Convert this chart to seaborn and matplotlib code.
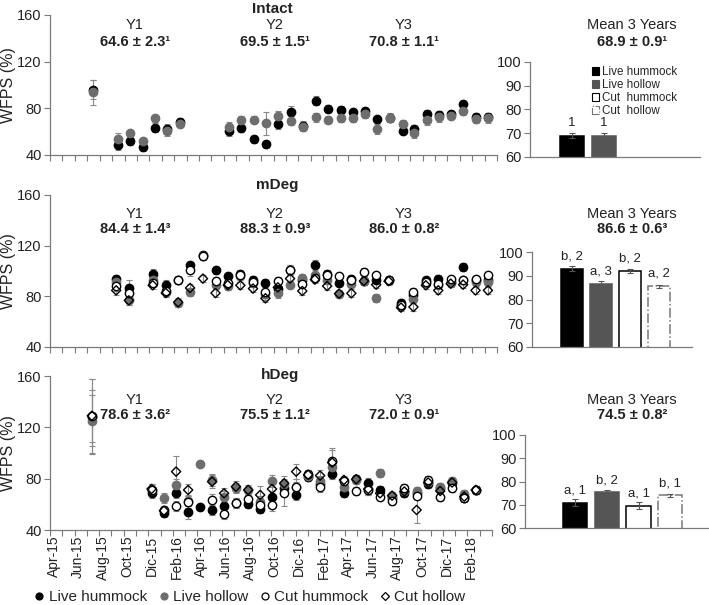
import numpy as np
import pandas as pd
import seaborn as sns
import matplotlib.pyplot as plt
from matplotlib.lines import Line2D
from matplotlib.patches import Patch

sns.set_theme(style="white")
plt.rcParams['font.family'] = ['Liberation Sans', 'DejaVu Sans']

# ---------------- datos ----------------
series = ["Live hummock", "Live hollow", "Cut hummock", "Cut hollow"]
month_labels = ["Apr-15", "Jun-15", "Aug-15", "Oct-15", "Dic-15", "Feb-16", "Apr-16", "Jun-16",
                "Aug-16", "Oct-16", "Dic-16", "Feb-17", "Apr-17", "Jun-17", "Aug-17", "Oct-17",
                "Dic-17", "Feb-18"]

# Intact (meses desde abril 2015)
x_int = [3.45, 5.45, 6.45, 7.45, 8.45, 9.45, 10.45, 14.45, 15.4, 16.4, 17.4, 18.4, 19.4, 20.4, 21.4,
         22.4, 23.4, 24.4, 25.4, 26.3, 27.4, 28.4, 29.3, 30.4, 31.3, 32.3, 33.3, 34.3, 35.3]
int_lhum = [95.9, 48.6, 52.3, 46.6, 63.5, 62.4, 68.6, 60.6, 63.5, 53.5, 49.2, 66.7, 76.7, 65.2, 86.7,
            79.6, 78.7, 76.7, 77.3, 70.7, 72.1, 60.9, 62.4, 75.3, 74.4, 75.0, 83.6, 73.0, 72.4]
int_lhol = [93.6, 53.5, 58.7, 52.0, 71.6, 60.6, 66.9, 64.4, 70.1, 70.1, 67.2, 73.5, 69.5, 64.4, 72.4,
            70.1, 71.6, 71.6, 75.0, 62.4, 72.1, 66.7, 58.7, 70.1, 73.0, 73.8, 77.3, 70.7, 71.6]
err_int_lhum = [8, 4, 4, 3, 4, 4, 3, 4, 4, 3, 3, 4, 5, 4, 4, 3, 3, 3, 3, 3, 3, 3, 3, 3, 3, 3, 3, 3, 3]
err_int_lhol = [11, 5, 3, 3, 3, 4, 3, 4, 3, 3, 10, 4, 4, 4, 4, 3, 3, 3, 3, 4, 4, 3, 4, 4, 5, 3, 3, 3, 4]

# mDeg
x_m = [5.33, 6.35, 8.27, 9.33, 10.32, 11.28, 12.32, 13.33, 14.32, 15.33, 16.35, 17.35, 18.35, 19.33,
       20.32, 21.33, 22.32, 23.28, 24.27, 25.28, 26.27, 27.27, 28.27, 29.27, 30.27, 31.27, 32.27,
       33.27, 34.27, 35.27]
m_lhum = [94.0, 86.9, 97.9, 88.7, 92.6, 104.5, 112.3, 100.5, 95.8, 97.9, 93.2, 90.5, 86.1, 101.1, 93.2,
          104.5, 97.9, 90.8, 94.0, 92.1, 93.2, 92.6, 75.0, 80.8, 92.6, 94.0, 91.3, 103.1, 92.6, 92.6]
m_lhol = [91.3, 77.4, 92.6, 83.4, 74.7, 83.4, 111.6, 88.7, 87.9, 95.8, 90.5, 81.6, 82.6, 89.2, 94.8,
          96.6, 93.2, 81.6, 90.0, 92.1, 78.7, 92.6, 72.1, 78.2, 90.5, 88.7, 90.5, 92.6, 91.3, 91.3]
m_chum = [88.1, 82.9, 90.5, 84.2, 93.2, 101.1, 111.8, 92.0, 90.5, 96.5, 91.3, 83.4, 91.9, 100.5, 90.0,
          94.8, 96.5, 95.8, 92.6, 99.2, 96.6, 93.0, 73.0, 83.4, 91.5, 90.0, 93.4, 92.6, 93.4, 96.6]
m_chol = [84.7, 76.8, 88.7, 82.6, 75.3, 86.6, 94.0, 82.6, 88.9, 88.7, 86.1, 78.4, 87.1, 94.0, 84.2,
          93.2, 88.1, 82.1, 82.4, 92.1, 89.2, 92.0, 71.1, 71.6, 88.7, 84.7, 90.0, 89.2, 84.7, 84.7]
err_m_lhum = [3, 6, 4, 4, 3, 3, 3, 3, 3, 3, 3, 3, 3, 4, 3, 4, 3, 3, 3, 3, 3, 3, 3, 3, 3, 3, 3, 3, 3, 3]
err_m_lhol = [3, 4, 3, 3, 3, 3, 3, 3, 3, 3, 3, 3, 4, 3, 3, 3, 3, 3, 3, 3, 3, 3, 3, 3, 3, 3, 3, 3, 3, 3]
err_m_chum = [4, 4, 3, 3, 3, 5, 3, 3, 3, 3, 3, 6, 3, 4, 3, 3, 3, 3, 3, 3, 3, 3, 3, 3, 3, 3, 3, 3, 3, 3]
err_m_chol = [4, 4, 3, 3, 3, 3, 3, 3, 3, 3, 3, 3, 3, 3, 3, 3, 3, 3, 3, 3, 3, 3, 3, 3, 3, 3, 3, 3, 3, 3]

# hDeg
x_h = [3.41, 8.27, 9.28, 10.27, 11.25, 12.21, 13.2, 14.18, 15.14, 16.14, 17.12, 18.08, 19.07, 20.05,
       21.02, 22.0, 22.98, 23.94, 24.94, 25.92, 26.88, 27.86, 28.86, 29.86, 30.8, 31.78, 32.75,
       33.74, 34.67]
h_lhum = [128.4, 68.6, 53.0, 68.6, 53.8, 58.2, 55.6, 58.7, 60.8, 60.0, 56.1, 66.0, 72.5, 67.3, 81.1,
          75.6, 83.4, 68.6, 79.6, 76.4, 71.2, 65.2, 68.6, 68.6, 75.6, 72.5, 76.4, 65.2, 71.2]
h_lhol = [125.3, 71.2, 65.2, 75.1, 62.6, 91.5, 79.0, 66.0, 73.0, 71.2, 61.6, 78.2, 75.6, 73.3, 82.0,
          78.2, 89.4, 73.8, 79.0, 71.2, 84.2, 66.8, 70.4, 70.4, 77.7, 73.8, 78.2, 67.8, 71.2]
h_chum = [128.9, 71.0, 55.6, 58.7, 62.1, np.nan, 63.4, 52.2, 61.3, 64.2, 59.7, 59.5, 68.6, 73.8, 83.4,
          73.3, 93.8, 78.2, 70.4, 71.2, 66.0, 62.6, 73.0, 66.8, 79.0, 65.5, 72.5, 65.2, 71.2]
h_chol = [129.0, 72.0, 55.0, 85.5, 71.2, np.nan, 77.7, 68.6, 73.8, 71.2, 67.3, 72.0, 76.4, 85.5, 83.0,
          82.4, 92.5, 79.0, 79.6, 72.0, 68.6, 66.8, 70.0, 55.6, 77.0, 70.4, 77.0, 66.0, 71.2]
err_h_lhum = [29, 4, 3, 4, 5, 2, 4, 4, 4, 3, 3, 4, 5, 4, 3, 4, 4, 3, 3, 4, 3, 3, 3, 3, 3, 3, 3, 3, 3]
err_h_lhol = [20, 5, 4, 5, 4, 2, 5, 4, 4, 4, 5, 5, 4, 4, 3, 4, 4, 3, 3, 4, 3, 3, 3, 3, 3, 3, 3, 3, 3]
err_h_chum = [20, 4, 3, 4, 5, 0, 5, 4, 4, 4, 5, 5, 10, 6, 3, 4, 10, 3, 3, 4, 3, 3, 3, 3, 3, 3, 3, 3, 3]
err_h_chol = [29, 4, 3, 12, 5, 0, 5, 4, 4, 4, 7, 5, 6, 6, 3, 4, 10, 3, 3, 4, 3, 3, 3, 10, 3, 3, 3, 3, 3]

# Medias de 3 años (barras)
bar_int = [68.9, 68.9, np.nan, np.nan]
bar_int_err = [1.0, 1.0, 0, 0]
bar_int_lbl = ["1", "1", "", ""]
bar_m = [93.0, 86.7, 92.0, 85.5]
bar_m_err = [1.0, 1.0, 1.0, 0.5]
bar_m_lbl = ["b, 2", "a, 3", "b, 2", "a, 2"]
bar_h = [70.8, 75.3, 69.5, 74.0]
bar_h_err = [1.5, 1.0, 1.5, 0.7]
bar_h_lbl = ["a, 1", "b, 2", "a, 1", "b, 1"]

# ---------------- estilos ----------------
face = ["black", "#6e6e6e", "white", "none"]
edge = ["black", "#6e6e6e", "black", "black"]
mark = ["o", "o", "o", "D"]
size = [36, 36, 36, 22]
bar_face = ["black", "#555555", "white", "white"]
bar_edge = ["black", "#555555", "black", "#777777"]
bar_ls = ["-", "-", "-", "-."]
axis_col = "#7a7a7a"
txt_col = "#222222"

W, H = 709, 605
fig = plt.figure(figsize=(W / 100, H / 100), dpi=100)


def box(x0, y0, x1, y1):
    # caja en pixeles (origen arriba-izquierda) -> fracciones de figura
    return [x0 / W, 1 - y1 / H, (x1 - x0) / W, (y1 - y0) / H]


def ftext(x, y, s, **kw):
    fig.text(x / W, 1 - y / H, s, ha="center", va="center", color=txt_col, **kw)


def scatter_panel(rect, xs, ys_list, errs_list, show_dates):
    ax = fig.add_axes(rect)
    for ys, es in zip(ys_list, errs_list):
        ax.errorbar(xs, ys, yerr=es, fmt="none", ecolor="#8a8a8a", elinewidth=0.8,
                    capsize=2, capthick=0.8, zorder=1)
    for i, ys in enumerate(ys_list):
        d = pd.DataFrame({"x": xs, "y": ys}).dropna()
        sns.scatterplot(data=d, x="x", y="y", ax=ax, marker=mark[i], s=size[i],
                        facecolor=face[i], edgecolor=edge[i], linewidth=1.0,
                        legend=False, zorder=2 + i)
    ax.set_xlim(0, 36)
    ax.set_ylim(40, 160)
    ax.set_yticks([40, 80, 120, 160])
    ax.set_xticks(np.arange(0, 37, 1), minor=True)
    ax.set_xticks(np.arange(len(month_labels)) * 2 + 0.3)
    if show_dates:
        ax.set_xticklabels(month_labels, rotation=90, fontsize=10, color=txt_col)
    else:
        ax.set_xticklabels([])
    ax.tick_params(axis="x", which="major", length=0, pad=4)
    ax.tick_params(axis="x", which="minor", length=4, width=0.8, color=axis_col, direction="out",
                   bottom=True)
    ax.tick_params(axis="y", length=4, width=0.8, color=axis_col, direction="out", left=True,
                   labelsize=10.5, labelcolor=txt_col, pad=2)
    for s in ["top", "right"]:
        ax.spines[s].set_visible(False)
    for s in ["left", "bottom"]:
        ax.spines[s].set_color(axis_col)
        ax.spines[s].set_linewidth(0.9)
    ax.set_xlabel("")
    ax.set_ylabel("WFPS (%)", fontsize=11.5, color=txt_col)
    # ancla = borde derecho del texto girado
    ax.yaxis.set_label_coords(-34 / 447, 0.5)
    return ax


def bar_panel(rect, vals, errs, labels, xlim):
    ax = fig.add_axes(rect)
    d = pd.DataFrame({"type": series, "wfps": vals})
    sns.barplot(data=d, x="type", y="wfps", hue="type", order=series, hue_order=series,
                palette=dict(zip(series, bar_face)), width=0.77, ax=ax, legend=False,
                errorbar=None, saturation=1)
    for p in ax.patches:
        i = int(round(p.get_x() + p.get_width() / 2))
        p.set_facecolor(bar_face[i])
        p.set_edgecolor(bar_edge[i])
        p.set_linestyle(bar_ls[i])
        p.set_linewidth(1.1)
    for i in range(len(series)):
        if np.isnan(vals[i]):
            continue
        ax.errorbar(i, vals[i], yerr=errs[i], fmt="none", ecolor="#555555", elinewidth=0.8,
                    capsize=2, capthick=0.8, zorder=5)
        ax.text(i, vals[i] + 5.3, labels[i], ha="center", va="center", fontsize=9.5, color=txt_col)
    ax.set_xlim(*xlim)
    ax.set_ylim(60, 100)
    ax.set_yticks([60, 70, 80, 90, 100])
    ax.set_xticks([])
    ax.set_xlabel("")
    ax.set_ylabel("")
    ax.tick_params(axis="y", length=4, width=0.8, color=axis_col, direction="out", left=True,
                   labelsize=10.5, labelcolor=txt_col, pad=2)
    for s in ["top", "right"]:
        ax.spines[s].set_visible(False)
    for s in ["left", "bottom"]:
        ax.spines[s].set_color(axis_col)
        ax.spines[s].set_linewidth(0.9)
    return ax


# ---------------- paneles ----------------
ax1 = scatter_panel(box(50, 15, 497, 155), x_int, [int_lhum, int_lhol],
                    [err_int_lhum, err_int_lhol], False)
ax2 = scatter_panel(box(50, 195, 497, 347), x_m, [m_lhum, m_lhol, m_chum, m_chol],
                    [err_m_lhum, err_m_lhol, err_m_chum, err_m_chol], False)
ax3 = scatter_panel(box(50, 376, 492, 530), x_h, [h_lhum, h_lhol, h_chum, h_chol],
                    [err_h_lhum, err_h_lhol, err_h_chum, err_h_chol], True)

b1 = bar_panel(box(530, 62, 700, 157), bar_int, bar_int_err, bar_int_lbl, (-1.31, 4.0))
b2 = bar_panel(box(532, 252, 692, 347), bar_m, bar_m_err, bar_m_lbl, (-1.38, 4.14))
b3 = bar_panel(box(525, 435, 708, 528), bar_h, bar_h_err, bar_h_lbl, (-1.58, 4.19))

# Leyenda dentro del panel de barras superior
bar_handles = [Patch(facecolor=bar_face[i], edgecolor=bar_edge[i], linestyle=bar_ls[i], linewidth=0.8)
               for i in range(4)]
bar_names = ["Live hummock", "Live hollow", "Cut  hummock", "Cut  hollow"]
fig.legend(bar_handles, bar_names, loc="upper left", bbox_to_anchor=(586 / W, 1 - 60 / H),
           frameon=False, fontsize=8.4, handlelength=0.65, handleheight=0.65, handletextpad=0.2,
           labelspacing=0.1, borderpad=0)

# ---------------- textos ----------------
ftext(272, 9, "Intact", fontsize=11, fontweight="bold")
ftext(277, 185, "mDeg", fontsize=11, fontweight="bold")
ftext(280, 375, "hDeg", fontsize=11, fontweight="bold")

rows = [
    (25, 42, ["64.6 ± 2.3¹", "69.5 ± 1.5¹", "70.8 ± 1.1¹"], "68.9 ± 0.9¹"),
    (214, 229, ["84.4 ± 1.4³", "88.3 ± 0.9³", "86.0 ± 0.8²"], "86.6 ± 0.6³"),
    (400, 415, ["78.6 ± 3.6²", "75.5 ± 1.1²", "72.0 ± 0.9¹"], "74.5 ± 0.8²"),
]
year_x = [135, 275, 404]
for yy, vy, vals, mean in rows:
    for j, xx in enumerate(year_x):
        ftext(xx, yy, "Y%d" % (j + 1), fontsize=10.5)
        ftext(xx, vy, vals[j], fontsize=10.5, fontweight="bold")
    ftext(632, yy, "Mean 3 Years", fontsize=10.5)
    ftext(632, vy, mean, fontsize=10.5, fontweight="bold")

# Leyenda inferior
pt_handles = [Line2D([], [], linestyle="none", marker=mark[i], markersize=5 if i < 3 else 4.2,
                     markerfacecolor=face[i], markeredgecolor=edge[i], markeredgewidth=0.9)
              for i in range(4)]
fig.legend(pt_handles, series, loc="center", bbox_to_anchor=(250 / W, 1 - 597 / H), ncol=4,
           frameon=False, fontsize=11, handlelength=0.6, handletextpad=0.3, columnspacing=0.8,
           borderpad=0)

fig.savefig("out.png", dpi=100)
